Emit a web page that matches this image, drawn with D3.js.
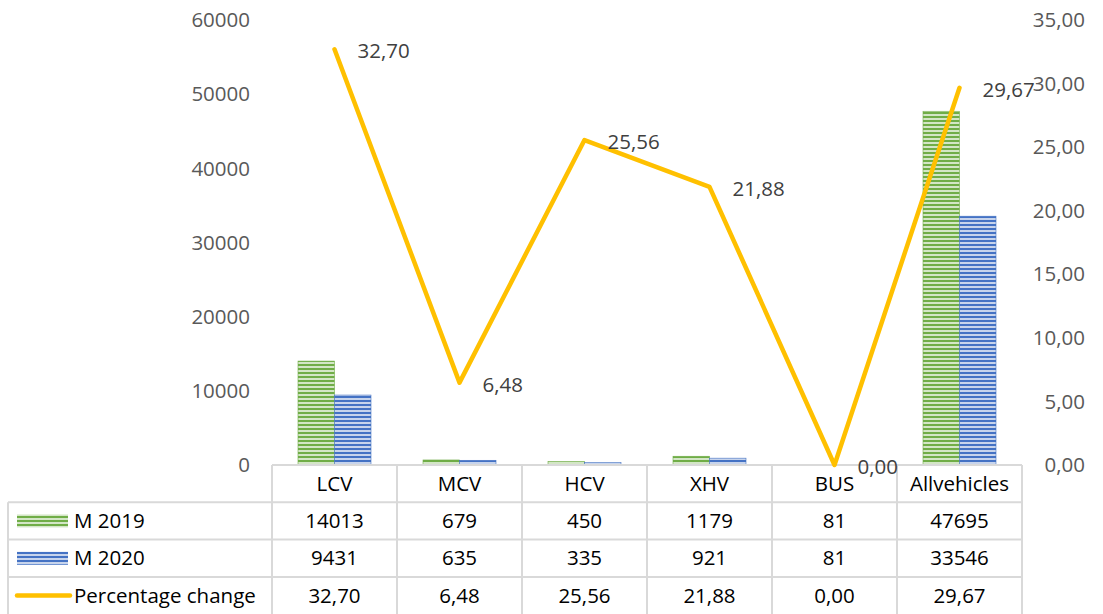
<!DOCTYPE html>
<html>
<head>
<meta charset="utf-8">
<script src="https://cdn.jsdelivr.net/npm/d3@7"></script>
<style>
  body { margin: 0; background: #fff; }
  text { font-family: "Open Sans", sans-serif; }
</style>
</head>
<body>
<div id="chart"></div>
<script>
var categories = ["LCV", "MCV", "HCV", "XHV", "BUS", "Allvehicles"];
var m2019 = [14013, 679, 450, 1179, 81, 47695];
var m2020 = [9431, 635, 335, 921, 81, 33546];
var pctChange = [32.70, 6.48, 25.56, 21.88, 0.00, 29.67];
var seriesNames = ["M 2019", "M 2020", "Percentage change"];
var leftTicks = [0, 10000, 20000, 30000, 40000, 50000, 60000];
var rightTicks = [0, 5, 10, 15, 20, 25, 30, 35];

var svgWidth = 1103, svgHeight = 614;
var plot = {left: 272, right: 1022, top: 20, bottom: 465};
var rowH = 37.3;
var tableLeft = 8;

var fmt = d3.format(".2f");
function comma(v) { return fmt(v).replace(".", ","); }

var svg = d3.select("#chart").append("svg")
  .attr("width", svgWidth)
  .attr("height", svgHeight);

var defs = svg.append("defs");
function stripes(id, dark, light) {
  var p = defs.append("pattern")
    .attr("id", id)
    .attr("patternUnits", "userSpaceOnUse")
    .attr("width", 8).attr("height", 4);
  p.append("rect").attr("width", 8).attr("height", 4).attr("fill", light);
  p.append("rect").attr("y", 0).attr("width", 8).attr("height", 2).attr("fill", dark);
}
stripes("green", "#70ad47", "#d3e6c6");
stripes("blue", "#4472c4", "#c7d4ec");

var x = d3.scaleBand().domain(categories).range([plot.left, plot.right]);
var yLeft = d3.scaleLinear().domain([0, 60000]).range([plot.bottom, plot.top]);
var yRight = d3.scaleLinear().domain([0, 35]).range([plot.bottom, plot.top]);
var barW = 36.5;

// left axis labels
svg.append("g").selectAll("text")
  .data(leftTicks).enter().append("text")
  .attr("x", 250)
  .attr("y", d => yLeft(d))
  .attr("dy", "0.35em")
  .attr("text-anchor", "end")
  .attr("font-size", "20.5px")
  .attr("fill", "#595959")
  .text(d => d);

// right axis labels
svg.append("g").selectAll("text")
  .data(rightTicks).enter().append("text")
  .attr("x", 1085)
  .attr("y", d => yRight(d))
  .attr("dy", "0.35em")
  .attr("text-anchor", "end")
  .attr("font-size", "20.5px")
  .attr("fill", "#595959")
  .text(d => comma(d));

// bars
var bars = svg.append("g");
bars.selectAll(".b19")
  .data(categories).enter().append("rect")
  .attr("x", d => x(d) + x.bandwidth() / 2 - barW)
  .attr("y", (d, i) => yLeft(m2019[i]))
  .attr("width", barW)
  .attr("height", (d, i) => plot.bottom - yLeft(m2019[i]))
  .attr("fill", "url(#green)")
  .attr("stroke", "#70ad47").attr("stroke-width", 0.6);
bars.selectAll(".b20")
  .data(categories).enter().append("rect")
  .attr("x", d => x(d) + x.bandwidth() / 2)
  .attr("y", (d, i) => yLeft(m2020[i]))
  .attr("width", barW)
  .attr("height", (d, i) => plot.bottom - yLeft(m2020[i]))
  .attr("fill", "url(#blue)")
  .attr("stroke", "#4472c4").attr("stroke-width", 0.6);

// table grid
var grid = svg.append("g").attr("stroke", "#d9d9d9").attr("stroke-width", 2);
grid.append("line").attr("x1", plot.left).attr("x2", plot.right).attr("y1", plot.bottom).attr("y2", plot.bottom);
for (var r = 1; r <= 3; r++) {
  grid.append("line").attr("x1", tableLeft).attr("x2", plot.right)
    .attr("y1", plot.bottom + r * rowH).attr("y2", plot.bottom + r * rowH);
}
grid.append("line").attr("x1", tableLeft).attr("x2", tableLeft)
  .attr("y1", plot.bottom + rowH).attr("y2", svgHeight);
categories.forEach(function(c) {
  grid.append("line").attr("x1", x(c)).attr("x2", x(c))
    .attr("y1", plot.bottom).attr("y2", svgHeight);
});
grid.append("line").attr("x1", plot.right).attr("x2", plot.right)
  .attr("y1", plot.bottom).attr("y2", svgHeight);

// table text
var table = svg.append("g").attr("font-size", "20.5px").attr("fill", "#000");
table.selectAll(".hdr").data(categories).enter().append("text")
  .attr("x", d => x(d) + x.bandwidth() / 2)
  .attr("y", plot.bottom + rowH / 2)
  .attr("dy", "0.35em").attr("text-anchor", "middle")
  .text(d => d);
var rows = [m2019.map(String), m2020.map(String), pctChange.map(comma)];
rows.forEach(function(vals, r) {
  table.selectAll(".r" + r).data(vals).enter().append("text")
    .attr("x", (d, i) => x(categories[i]) + x.bandwidth() / 2)
    .attr("y", plot.bottom + rowH * (r + 1.5))
    .attr("dy", "0.35em").attr("text-anchor", "middle")
    .text(d => d);
  table.append("text")
    .attr("x", 74)
    .attr("y", plot.bottom + rowH * (r + 1.5))
    .attr("dy", "0.35em")
    .text(seriesNames[r]);
});
// legend keys
svg.append("rect").attr("x", 17).attr("y", plot.bottom + rowH * 1.5 - 6.5).attr("width", 51).attr("height", 13)
  .attr("fill", "url(#green)");
svg.append("rect").attr("x", 17).attr("y", plot.bottom + rowH * 2.5 - 6.5).attr("width", 51).attr("height", 13)
  .attr("fill", "url(#blue)");
svg.append("line").attr("x1", 17).attr("x2", 70)
  .attr("y1", plot.bottom + rowH * 3.5).attr("y2", plot.bottom + rowH * 3.5)
  .attr("stroke", "#ffc000").attr("stroke-width", 4.5).attr("stroke-linecap", "round");

// percentage line
var line = d3.line()
  .x((d, i) => x(categories[i]) + x.bandwidth() / 2)
  .y(d => yRight(d));
svg.append("path")
  .datum(pctChange)
  .attr("d", line)
  .attr("fill", "none")
  .attr("stroke", "#ffc000")
  .attr("stroke-width", 4.5)
  .attr("stroke-linejoin", "round")
  .attr("stroke-linecap", "round");

// line labels
svg.append("g").selectAll("text")
  .data(pctChange).enter().append("text")
  .attr("x", (d, i) => x(categories[i]) + x.bandwidth() / 2 + 23)
  .attr("y", d => yRight(d) + 2)
  .attr("dy", "0.35em")
  .attr("font-size", "20.5px")
  .attr("fill", "#404040")
  .text(d => comma(d));
</script>
</body>
</html>
